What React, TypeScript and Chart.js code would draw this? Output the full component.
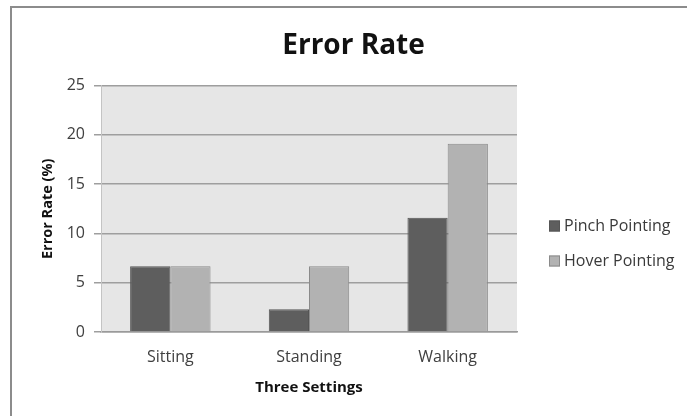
import React, { useEffect, useRef } from "react";
import { Chart, registerables } from "chart.js";

Chart.register(...registerables);

const titleText = "Error Rate";
const xAxisTitle = "Three Settings";
const yAxisTitle = "Error Rate (%)";
const categories = ["Sitting", "Standing", "Walking"];
const seriesNames = ["Pinch Pointing", "Hover Pointing"];
const pinchValues = [6.67, 2.3, 11.6];
const hoverValues = [6.67, 6.67, 19.1];
const yMin = 0;
const yMax = 25;
const yStep = 5;

const FONT = "'Open Sans', Lato, sans-serif";

const framePlugin = {
  id: "frame",
  afterLayout(chart: any) {
    const t = chart.titleBlock;
    if (t) {
      t.left = 20;
      t.right = chart.width;
      t.width = t.right - t.left;
    }
  },
  beforeDraw(chart: any) {
    const { ctx, width, height, chartArea } = chart;
    ctx.save();
    ctx.fillStyle = "#ffffff";
    ctx.fillRect(0, 0, width, height);
    ctx.strokeStyle = "#8c8c8c";
    ctx.lineWidth = 2;
    ctx.beginPath();
    ctx.moveTo(11, height + 2);
    ctx.lineTo(11, 7);
    ctx.lineTo(width + 2, 7);
    ctx.stroke();
    ctx.fillStyle = "#e6e6e6";
    ctx.fillRect(chartArea.left, chartArea.top, chartArea.right - chartArea.left, chartArea.bottom - chartArea.top);
    ctx.restore();
  },
  afterDraw(chart: any) {
    const { ctx, chartArea } = chart;
    const datasets = chart.data.datasets;
    ctx.save();
    ctx.font = `16px ${FONT}`;
    ctx.textBaseline = "middle";
    ctx.textAlign = "left";
    const boxX = chartArea.right + 32;
    const startY = 226;
    const step = 35;
    datasets.forEach((ds: any, i: number) => {
      const cy = startY + i * step;
      ctx.fillStyle = ds.backgroundColor;
      ctx.fillRect(boxX, cy - 5.5, 11, 11);
      ctx.strokeStyle = ds.borderColor;
      ctx.lineWidth = 1;
      ctx.strokeRect(boxX + 0.5, cy - 5, 10, 10);
      ctx.fillStyle = "#3a3a3a";
      ctx.fillText(ds.label, boxX + 15, cy);
    });
    ctx.restore();
  },
};

export default function App() {
  const ref = useRef<HTMLCanvasElement | null>(null);
  useEffect(() => {
    if (!ref.current) return;
    const chart = new Chart(ref.current, {
      type: "bar",
      data: {
        labels: categories,
        datasets: [
          {
            label: seriesNames[0],
            data: pinchValues,
            backgroundColor: "#5e5e5e",
            borderColor: "#555555",
            borderWidth: 1,
          },
          {
            label: seriesNames[1],
            data: hoverValues,
            backgroundColor: "#b2b2b2",
            borderColor: "#8a8a8a",
            borderWidth: 1,
          },
        ],
      },
      options: {
        animation: false,
        responsive: false,
        maintainAspectRatio: false,
        layout: { padding: { left: 20, right: 170, top: 6, bottom: 0 } },
        datasets: {
          bar: { categoryPercentage: 0.58, barPercentage: 1.0 },
        },
        plugins: {
          legend: { display: false },
          tooltip: { enabled: false },
          title: {
            display: true,
            text: titleText,
            color: "#111111",
            font: { family: FONT, size: 28, weight: "bold" },
            padding: { top: 23, bottom: 23 },
          },
        },
        scales: {
          x: {
            offset: true,
            grid: { display: false, drawTicks: false },
            border: { display: true, color: "#9a9a9a", width: 1.5 },
            ticks: {
              color: "#404040",
              padding: 16,
              font: { family: FONT, size: 16 },
            },
            title: {
              display: true,
              text: xAxisTitle,
              color: "#111111",
              font: { family: FONT, size: 15, weight: "bold" },
              padding: { top: 0, bottom: 19 },
            },
            afterFit(s: any) {
              s.height = 84;
            },
          },
          y: {
            min: yMin,
            max: yMax,
            ticks: {
              stepSize: yStep,
              color: "#404040",
              padding: 9,
              font: { family: FONT, size: 16 },
            },
            grid: {
              color: "#9e9e9e",
              lineWidth: 1.5,
              tickLength: 7,
              drawTicks: true,
            },
            border: { display: true, color: "#c4c4c4", width: 1 },
            title: {
              display: true,
              text: yAxisTitle,
              color: "#111111",
              font: { family: FONT, size: 14.5, weight: "bold" },
              padding: { top: 19, bottom: 0 },
            },
            afterFit(s: any) {
              s.width = 81;
            },
          },
        },
      },
      plugins: [framePlugin],
    });
    return () => chart.destroy();
  }, []);
  return (
    <div style={{ position: "absolute", left: 0, top: 0, width: 687, height: 416, background: "#fff" }}>
      <canvas ref={ref} width={687} height={416} style={{ display: "block" }} />
    </div>
  );
}
